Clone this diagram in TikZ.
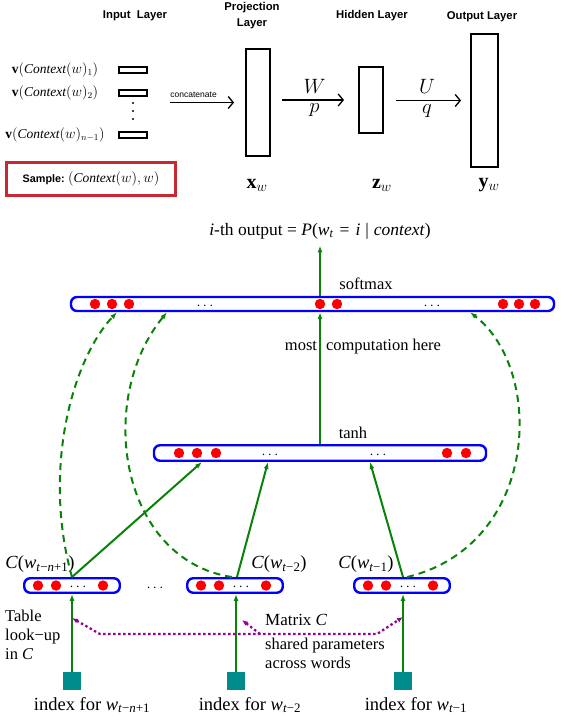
\documentclass[tikz,border=0pt]{standalone}
\usepackage{fontspec}
\setmainfont{Liberation Serif}
\setsansfont{Liberation Sans}
\usetikzlibrary{arrows.meta}
\definecolor{netGreen}{RGB}{10,130,10}
\definecolor{netBlue}{RGB}{0,0,255}
\definecolor{netRed}{RGB}{255,0,0}
\definecolor{netTeal}{RGB}{0,140,140}
\definecolor{netPurple}{RGB}{150,0,150}
\definecolor{sampleRed}{RGB}{200,40,50}

\begin{document}
\begin{tikzpicture}[x=1pt, y=-1pt,
  layerbox/.style={draw=black, line width=2.4pt, inner sep=0pt},
  head/.style={font=\sffamily\bfseries\fontsize{11.3}{16}\selectfont, align=center},
  barb/.style={line width=1.3pt, -{Straight Barb[length=5pt,width=12pt]}},
  wlab/.style={font=\fontsize{22}{24}\selectfont, inner sep=0pt},
  bar/.style={draw=netBlue, line width=2.4pt, rounded corners=6pt, minimum height=14pt, inner sep=0pt},
  flow/.style={draw=netGreen, line width=2pt, -{Latex[length=7pt,width=5pt]}},
  skip/.style={flow, dash pattern=on 7pt off 5pt},
  txt/.style={font=\fontsize{16.5}{19}\selectfont},
  bigtxt/.style={font=\fontsize{18.5}{21}\selectfont},
  idx/.style={fill=netTeal, minimum size=18pt, inner sep=0pt},
  shared/.style={draw=netPurple, line width=2.3pt, dash pattern=on 2.4pt off 2.6pt},
  tip/.style={{Latex[length=6pt,width=5pt]}-{Latex[length=6pt,width=5pt]}}
]
\useasboundingbox (0,0) rectangle (576,722);

\node[head] at (135,16) {Input\ \ Layer};
\node[head] at (252,16) {Projection\\Layer};
\node[head] at (372,16) {Hidden Layer};
\node[head] at (482,17) {Output Layer};

\foreach \n/\y/\lab in {v1/70/1, v2/93/2, v3/135/{n-1}} {
  \node[layerbox, line width=2.2pt, minimum width=28pt, minimum height=6pt] (\n) at (133,\y) {};
  \node[font=\fontsize{13.5}{16}\selectfont] at (55,\y) {$\mathbf{v}(\mathit{Context}(w)_{\lab})$};
}
\foreach \y in {103,111,119}
  \fill (133,\y) circle (1.1pt);

\node[layerbox, minimum width=23.5pt, minimum height=106.5pt] (proj) at (258,102.5) {};
\node[layerbox, minimum width=23.5pt, minimum height=65.5pt] (hidn) at (371,100) {};
\node[layerbox, minimum width=26.5pt, minimum height=132.5pt] (outp) at (484.5,100.5) {};

\draw[barb, shorten <=22pt, shorten >=11pt] (v2.east |- proj.west) -- node[above, xshift=-3pt, yshift=1pt, font=\sffamily\fontsize{8.5}{10}\selectfont] {concatenate} (proj.west);
\draw[barb, shorten <=11pt, shorten >=14pt] (proj.east |- hidn.west) -- node[wlab, above=6pt] {$W$} node[wlab, below=3pt] {$p$} (hidn.west);
\draw[barb, shorten <=12pt, shorten >=9pt] (hidn.east |- outp.west) -- node[wlab, above=6pt] {$U$} node[wlab, below=3pt] {$q$} (outp.west);

\node[font=\fontsize{20}{24}\selectfont] at (257,185) {$\mathbf{x}_w$};
\node[font=\fontsize{20}{24}\selectfont] at (382,185) {$\mathbf{z}_w$};
\node[font=\fontsize{20}{24}\selectfont] at (489,185) {$\mathbf{y}_w$};

\node[draw=sampleRed, line width=2.5pt, minimum width=169pt, minimum height=33pt, font=\fontsize{13.5}{15}\selectfont] (smp) at (91,179) {{\sffamily\bfseries\fontsize{10.8}{13}\selectfont Sample:}\ $(\mathit{Context}(w),w)$};

\node[font=\fontsize{17.5}{20}\selectfont] (out) at (320,231) {\textit{i}-th output = \textit{P}(\textit{w}\textsubscript{\textit{t}}\hspace{6pt}=\hspace{6pt}\textit{i}\hspace{5pt}|\hspace{5pt}\textit{context})};
\node[bar, minimum width=483pt] (smax) at (312.5,304) {};
\node[txt] at (366,284) {softmax};
\node[txt] at (363,347) {most\hspace{9pt}computation here};
\node[bar, minimum width=332pt, minimum height=15.5pt] (tanh) at (320,453) {};
\node[txt] at (353,433) {tanh};

\foreach \x in {95,112,129,320,337,503,519,535}
  \fill[netRed] (\x,304) circle (5.2pt);
\foreach \x in {179,197,216,447,466}
  \fill[netRed] (\x,453) circle (5.2pt);
\foreach \x/\y in {205/306, 432/306, 270/455, 378/455}
  \node[font=\fontsize{14}{16}\selectfont] at (\x,\y) {$\cdots$};

\foreach \n/\x in {cl/72, cm/235, cr/402} {
  \node[bar, minimum width=95.5pt, minimum height=14.5pt] (\n) at (\x,585.5) {};
  \foreach \dx in {-34,-16,31}
    \fill[netRed] ([xshift=\dx pt]\n.center) circle (5.2pt);
  \node[font=\fontsize{14}{16}\selectfont] at ([xshift=6pt,yshift=-2pt]\n.center) {$\cdots$};
}
\node[font=\fontsize{14}{16}\selectfont] at (155,588) {$\cdots$};

\node[bigtxt] at (40,564) {\textit{C}(\textit{w}\textsubscript{\textit{t}−\textit{n}+1})};
\node[bigtxt] at (279,564) {\textit{C}(\textit{w}\textsubscript{\textit{t}−2})};
\node[bigtxt] at (366,564) {\textit{C}(\textit{w}\textsubscript{\textit{t}−1})};

\foreach \n/\x in {s1/72, s2/236, s3/403}
  \node[idx] (\n) at (\x,681) {};
\node[bigtxt] at (92,705) {index for \textit{w}\textsubscript{\textit{t}−\textit{n}+1}};
\node[bigtxt] at (250,705) {index for \textit{w}\textsubscript{\textit{t}−2}};
\node[bigtxt] at (416,705) {index for \textit{w}\textsubscript{\textit{t}−1}};

\node[txt, align=left, anchor=north west, inner sep=0pt] at (5,610) {Table\\look−up\\in \textit{C}};
\node[txt, font=\fontsize{17}{19}\selectfont, anchor=west, inner sep=0pt] at (265,620) {Matrix \textit{C}};
\node[txt, align=left, anchor=north west, inner sep=0pt] at (265,638) {shared parameters\\across words};

\draw[flow, shorten >=3pt] (smax.north -| out.south) -- (out.south);
\draw[flow] (tanh.north) -- (tanh.north |- smax.south);
\draw[flow] (cl.north) -- ([xshift=-118pt]tanh.south);
\draw[flow] ([xshift=2pt]cm.north) -- ([xshift=-52pt]tanh.south);
\draw[flow] ([xshift=1pt]cr.north) -- ([xshift=50pt]tanh.south);
\foreach \s/\n in {s1/cl, s2/cm, s3/cr}
  \draw[flow] (\s.north) -- (\s.north |- \n.south);

\draw[skip] (cl.north) .. controls (42,470) and (72,360) .. ([xshift=-195.5pt]smax.south);
\draw[skip] ([xshift=-3pt]cm.north) .. controls (120,560) and (95,400) .. ([xshift=-145.5pt]smax.south);
\draw[skip] ([xshift=5pt]cr.north) .. controls (540,545) and (545,370) .. ([xshift=157.5pt]smax.south);

\coordinate (t1) at (72,618);
\coordinate (t2) at (242,620);
\coordinate (t3) at (403,617);
\coordinate (mL) at (100,634);
\coordinate (mM) at (260,634);
\coordinate (mR) at (377,634);
\draw[shared, tip] (t1) -- (mL) -- (mR) -- (t3);
\draw[shared, -{Latex[length=6pt,width=5pt]}] (mM) -- (t2);
\end{tikzpicture}
\end{document}
